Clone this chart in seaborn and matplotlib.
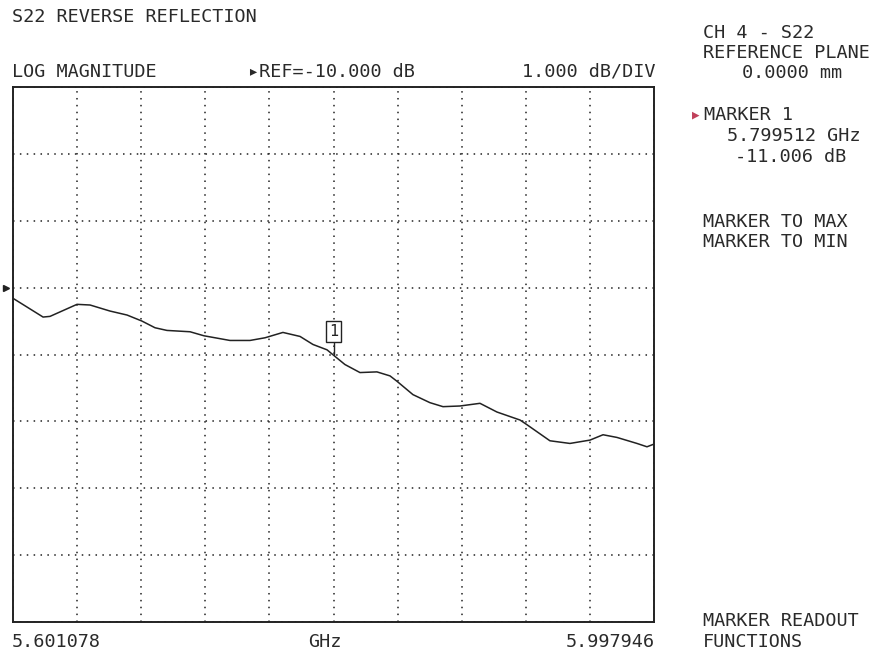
import numpy as np
import pandas as pd
import matplotlib.pyplot as plt
import seaborn as sns

sns.set_style("white")
plt.rcParams['font.family'] = ['DejaVu Sans Mono']

# trace (GHz, dB)
freq_ghz = [5.6011, 5.6197, 5.6240, 5.6407, 5.6488, 5.6611, 5.6717, 5.6809,
            5.6890, 5.6964, 5.7107, 5.7193, 5.7354, 5.7478, 5.7571, 5.7682,
            5.7788, 5.7868, 5.7955, 5.7995, 5.8066, 5.8159, 5.8264, 5.8345,
            5.8388, 5.8487, 5.8592, 5.8673, 5.8778, 5.8902, 5.9007, 5.9150,
            5.9187, 5.9335, 5.9459, 5.9583, 5.9664, 5.9750, 5.9874, 5.9936,
            5.9979]
s22_db = [-10.16, -10.44, -10.43, -10.25, -10.26, -10.35, -10.41, -10.50,
          -10.60, -10.64, -10.66, -10.72, -10.79, -10.79, -10.75, -10.67,
          -10.73, -10.85, -10.93, -11.01, -11.15, -11.27, -11.26, -11.32,
          -11.40, -11.60, -11.72, -11.78, -11.77, -11.73, -11.86, -11.98,
          -12.04, -12.29, -12.33, -12.28, -12.20, -12.24, -12.33, -12.38,
          -12.34]

f_start, f_stop = 5.601078, 5.997946
ref_db, db_div = -10.0, 1.0
marker_f, marker_db = 5.799512, -11.006

df = pd.DataFrame({"freq": freq_ghz, "s22": s22_db})

fig = plt.figure(figsize=(8.77, 6.57), dpi=100)
ax = fig.add_axes([13/877, 35/657, 641/877, 535/657])

sns.lineplot(data=df, x="freq", y="s22", ax=ax, color="#222222", linewidth=1.1)

ax.set_xlim(f_start, f_stop)
ax.set_ylim(ref_db - 5*db_div, ref_db + 3*db_div)
ax.set_xticks(np.linspace(f_start, f_stop, 11))
ax.set_yticks(np.arange(ref_db - 5*db_div, ref_db + 3.5*db_div, db_div))
ax.tick_params(length=0, labelbottom=False, labelleft=False)
ax.set_xlabel("")
ax.set_ylabel("")
ax.grid(True, color="#222222", linestyle=(0, (1, 3.5)), linewidth=1.1)
for s in ax.spines.values():
    s.set_color("#222222")
    s.set_linewidth(1.4)

# marker 1
ax.plot([marker_f, marker_f], [marker_db, marker_db + 0.2], color="#222222", lw=1)
ax.annotate("1", (marker_f, marker_db + 0.35), ha="center", va="center",
            fontsize=11, color="#222222",
            bbox=dict(boxstyle="square,pad=0.2", fc="white", ec="#222222", lw=1))

# reference arrow on the left
ax.plot([f_start - 0.0045], [ref_db], marker=">", color="#222222",
        markersize=5, clip_on=False)

fs = 13.3
tc = "#2a2a2a"
def t(x, y, s, **kw):
    kw.setdefault("ha", "left")
    fig.text(x/877, 1 - y/657, s, va="center", fontsize=fs, color=tc, **kw)

t(12, 17, "S22 REVERSE REFLECTION")
t(12, 72, "LOG MAGNITUDE")
t(248, 72, "\u25b8REF=-10.000 dB")
t(655, 72, "1.000 dB/DIV", ha="right")
t(703, 33, "CH 4 - S22")
t(703, 53, "REFERENCE PLANE")
t(742, 73, "0.0000 mm")
fig.text(692/877, 1 - 115/657, "\u25b6", va="center", fontsize=9, color="#c0405a")
t(704, 115, "MARKER 1")
t(727, 136, "5.799512 GHz")
t(735, 157, "-11.006 dB")
t(703, 222, "MARKER TO MAX")
t(703, 242, "MARKER TO MIN")
t(703, 621, "MARKER READOUT")
t(703, 642, "FUNCTIONS")
t(12, 642, "5.601078")
t(325, 642, "GHz", ha="center")
t(655, 642, "5.997946", ha="right")

fig.savefig("out.png", dpi=100, facecolor="white")
